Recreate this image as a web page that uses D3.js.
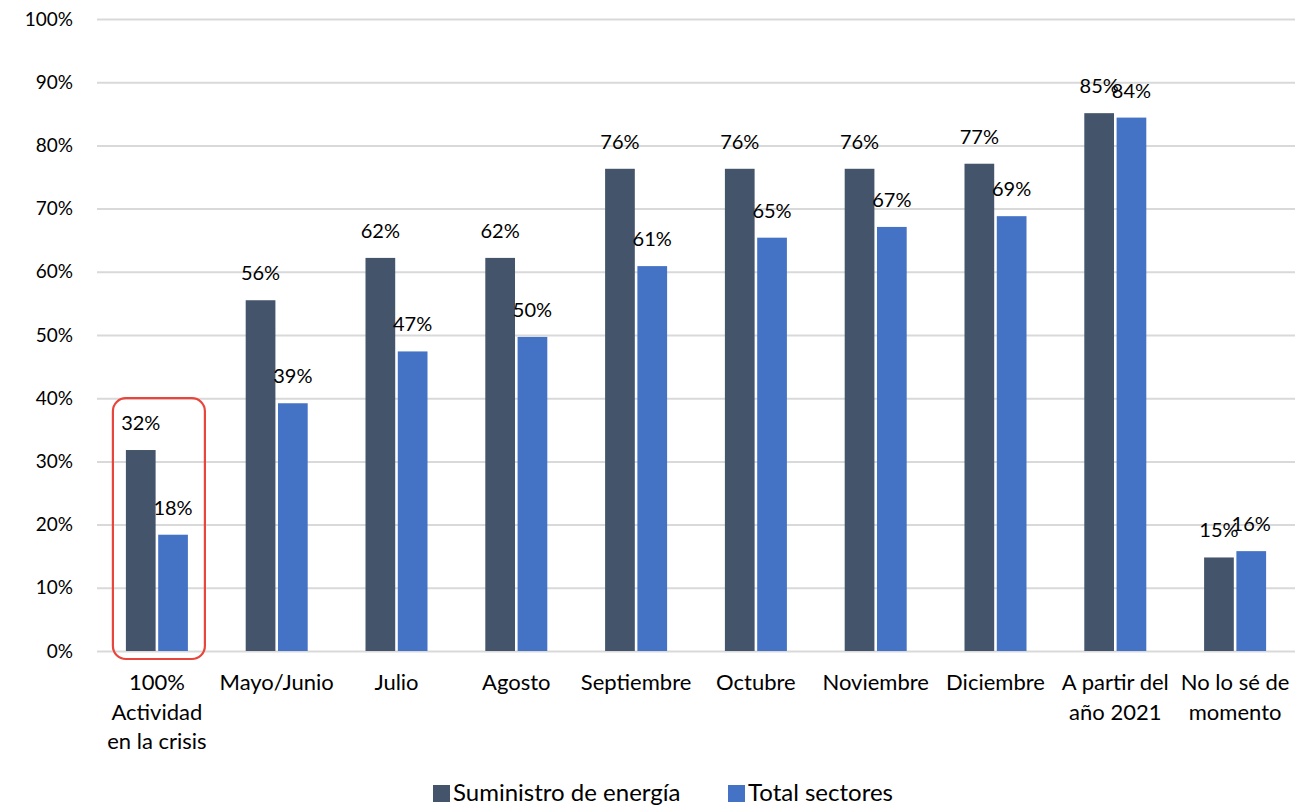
<!DOCTYPE html>
<html>
<head>
<meta charset="utf-8">
<script src="https://cdn.jsdelivr.net/npm/d3@7"></script>
<style>
	body { margin: 0; background: #fff; }
	text { font-family: Lato, "Open Sans", sans-serif; fill: #000; }
</style>
</head>
<body>
<div class="chart"></div>
<script>
const categories = [
	["100%", "Actividad", "en la crisis"],
	["Mayo/Junio"],
	["Julio"],
	["Agosto"],
	["Septiembre"],
	["Octubre"],
	["Noviembre"],
	["Diciembre"],
	["A partir del", "año 2021"],
	["No lo sé de", "momento"]
]
const energia = [31.8, 55.5, 62.2, 62.2, 76.3, 76.3, 76.3, 77.1, 85.1, 14.8]
const total = [18.4, 39.2, 47.4, 49.7, 60.9, 65.4, 67.1, 68.8, 84.4, 15.8]
const seriesNames = ["Suministro de energía", "Total sectores"]
const yTicks = [0, 10, 20, 30, 40, 50, 60, 70, 80, 90, 100]

const colors = ["#44546A", "#4472C4"]

const W = 1310, H = 807
const margin = {left: 97, right: 15, top: 19, bottom: 156}
const width = W - margin.left - margin.right
const height = H - margin.top - margin.bottom

const rows = categories.map(function(c, i){
	return {key: i, label: c, values: [energia[i], total[i]]}
})

const xScale = d3.scaleBand()
	.domain(rows.map(function(d){return d.key}))
	.range([0, width])

const xInner = d3.scaleBand()
	.domain([0, 1])
	.range([xScale.bandwidth() / 2 - 31, xScale.bandwidth() / 2 + 31])
	.paddingInner(0.08)

const yScale = d3.scaleLinear()
	.domain([0, 100])
	.range([height, 0])

let svg = d3.select(".chart")
	.append("svg")
	.attr("width", W)
	.attr("height", H)

let g = svg.append("g")
	.attr("transform", "translate(" + margin.left + ", " + margin.top + ")")

// gridlines + y labels
const yAxisCall = d3.axisLeft(yScale)
	.tickValues(yTicks)
	.tickSize(-width)
	.tickPadding(24)
	.tickFormat(function(d){return d + "%"})

g.append("g")
	.attr("class", "y axis")
	.call(yAxisCall)
	.call(function(s){
		s.select(".domain").remove()
		s.selectAll("line").attr("stroke", "#D9D9D9").attr("stroke-width", 2)
		s.selectAll("text").attr("font-size", "19px").attr("font-family", "Lato, sans-serif")
	})

// bars
let groups = g.selectAll(".cat")
	.data(rows)
	.enter()
	.append("g")
	.attr("class", "cat")
	.attr("transform", function(d){return "translate(" + xScale(d.key) + ",0)"})

groups.selectAll("rect")
	.data(function(d){return d.values})
	.enter()
	.append("rect")
	.attr("x", function(d, i){return xInner(i)})
	.attr("y", function(d){return yScale(d)})
	.attr("width", xInner.bandwidth())
	.attr("height", function(d){return height - yScale(d)})
	.attr("fill", function(d, i){return colors[i]})

groups.selectAll(".val")
	.data(function(d){return d.values})
	.enter()
	.append("text")
	.attr("class", "val")
	.attr("x", function(d, i){return xInner(i) + xInner.bandwidth() / 2})
	.attr("y", function(d){return yScale(d) - 20})
	.attr("text-anchor", "middle")
	.attr("font-size", "20px")
	.text(function(d){return Math.round(d) + "%"})

// x labels
groups.append("text")
	.attr("class", "cat-label")
	.attr("x", xScale.bandwidth() / 2)
	.attr("y", height + 39)
	.attr("text-anchor", "middle")
	.attr("font-size", "22px")
	.selectAll("tspan")
	.data(function(d){return d.label})
	.enter()
	.append("tspan")
	.attr("x", xScale.bandwidth() / 2)
	.attr("dy", function(d, i){return i == 0 ? 0 : 29.5})
	.text(function(d){return d})

// red highlight around first category
g.append("rect")
	.attr("x", xScale(0) + xInner(0) - 13)
	.attr("y", yScale(40))
	.attr("width", xInner.range()[1] - xInner.range()[0] + 30)
	.attr("height", height - yScale(40) + 8)
	.attr("rx", 13)
	.attr("fill", "none")
	.attr("stroke", "#E8453C")
	.attr("stroke-width", 2.2)

// legend
const legend = svg.append("g").attr("transform", "translate(433, 785)")
const legendX = [0, 295]
seriesNames.forEach(function(name, i){
	legend.append("rect")
		.attr("x", legendX[i])
		.attr("y", 0)
		.attr("width", 17)
		.attr("height", 17)
		.attr("fill", colors[i])
	legend.append("text")
		.attr("x", legendX[i] + 20)
		.attr("y", 16)
		.attr("font-size", "24px")
		.text(name)
})
</script>
</body>
</html>
